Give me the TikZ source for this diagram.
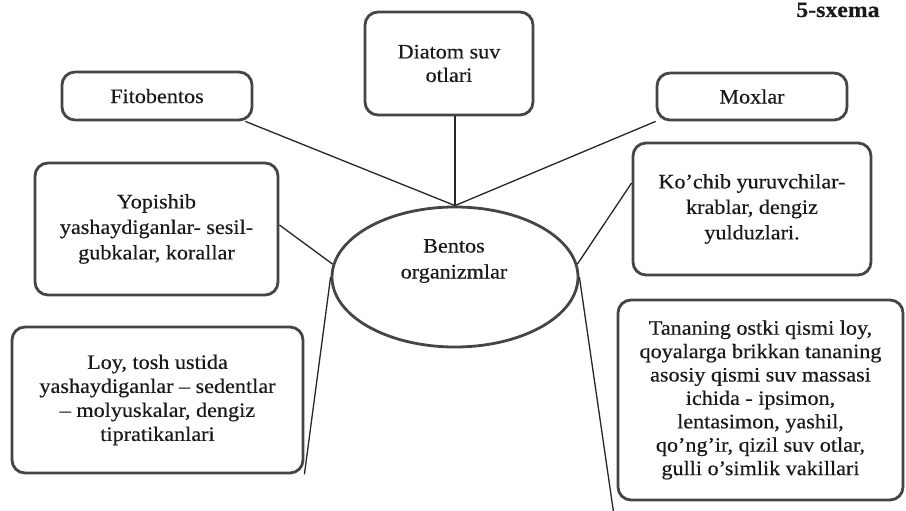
\documentclass[tikz,border=0pt]{standalone}
\usepackage{fontspec}
\setmainfont[FakeStretch=1.08,FakeBold=0.35]{Liberation Serif}
\usetikzlibrary{shapes.geometric}
\definecolor{boxgray}{HTML}{454545}
\definecolor{lnk}{HTML}{262626}
\definecolor{txt}{HTML}{1A1A1A}
\begin{document}
\begin{tikzpicture}[x=1pt,y=-1pt,
  box/.style={draw=boxgray, line width=2.8pt, rounded corners=13pt, align=center,
    inner sep=0pt, text=txt, font=\fontsize{20.5}{23.5}\selectfont},
  link/.style={draw=lnk, line width=1.3pt},
  lbl/.style={align=center, inner sep=0pt, text=txt, font=\fontsize{20.5}{26}\selectfont}]
\useasboundingbox[fill=white] (0,0) rectangle (906,511);

\node[anchor=base, inner sep=0pt, text=txt, font=\fontsize{22}{22}\selectfont\bfseries] (title) at (838,17) {5-sxema};

\node[box, minimum width=168pt, minimum height=103pt] (diatom) at (449,63.5) {Diatom suv\\otlari};
\node[box, minimum width=190pt, minimum height=48pt] (fito) at (157,96) {Fitobentos};
\node[box, minimum width=190pt, minimum height=47pt] (mox) at (752,96.5) {Moxlar};
\node[box, minimum width=243pt, minimum height=132pt, font=\fontsize{20.5}{25.5}\selectfont] (yop) at (156.5,229) {Yopishib\\yashaydiganlar- sesil-\\gubkalar, korallar};
\node[box, minimum width=238pt, minimum height=132pt, font=\fontsize{20.5}{25.5}\selectfont] (koc) at (752,209) {Ko’chib yuruvchilar-\\krablar, dengiz\\yulduzlari.};
\node[box, minimum width=291pt, minimum height=146pt, font=\fontsize{20.5}{24}\selectfont] (loy) at (157.5,400) {Loy, tosh ustida\\yashaydiganlar -- sedentlar\\-- molyuskalar, dengiz\\tipratikanlari};
\node[box, minimum width=285pt, minimum height=200pt, font=\fontsize{20.5}{23.4}\selectfont] (tan) at (760.5,400) {Tananing ostki qismi loy,\\qoyalarga brikkan tananing\\asosiy qismi suv massasi\\ichida - ipsimon,\\lentasimon, yashil,\\qo’ng’ir, qizil suv otlar,\\gulli o’simlik vakillari};

\node[draw=boxgray, line width=2.8pt, ellipse, minimum width=246pt, minimum height=140pt, inner sep=0pt] (ell) at (455,277) {};
\node[lbl] (elltext) at (454,261) {Bentos\\organizmlar};

\draw[link] ([xshift=-8pt]fito.south east) -- (ell.north);
\draw[link] (ell.north) -- (ell.north |- diatom.south);
\draw[link] (mox.south west) -- (ell.north);
\draw[link] ([yshift=4pt]yop.east) -- (ell.174);
\draw[link] ([yshift=26pt]koc.west) -- (ell.6);
\draw[link] (ell.180) -- (loy.south east);
\draw[link] (ell.0) -- ([yshift=-32pt]tan.south west);
\end{tikzpicture}
\end{document}
